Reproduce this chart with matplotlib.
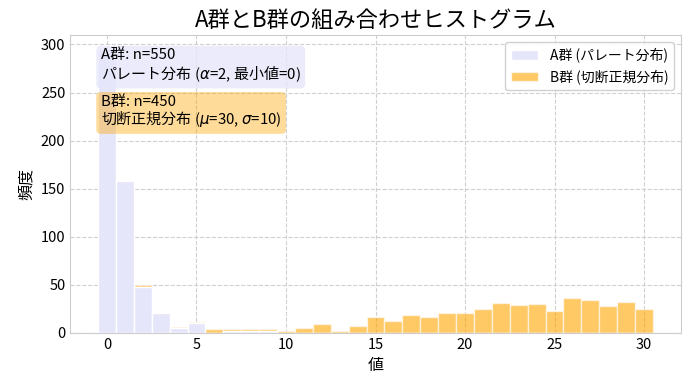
import matplotlib
matplotlib.use('agg')
import matplotlib.pyplot as plt
import numpy as np

# bin centres 0..30, width 1
bin_centers = list(range(31))
a_counts = [295, 158, 48, 20, 5, 10, 0, 2, 2, 2, 0, 0, 0, 0, 0, 0,
            0, 0, 0, 0, 0, 0, 0, 0, 0, 0, 0, 0, 0, 0, 0]
b_counts = [0, 0, 50, 0, 6, 11, 4, 4, 4, 4, 2, 5, 9, 2, 7, 16,
            12, 18, 16, 20, 20, 25, 31, 29, 30, 23, 36, 34, 28, 32, 25]

plt.rcParams['font.family'] = ['Noto Sans CJK JP', 'DejaVu Sans']
plt.rcParams['axes.unicode_minus'] = False

edges = np.arange(-0.5, 31.5, 1.0)

fig, ax = plt.subplots(figsize=(6.89, 3.9), dpi=100)
ax.hist(bin_centers, bins=edges, weights=a_counts, color='lavender', alpha=1.0,
        edgecolor='white', linewidth=1, label='A群 (パレート分布)', zorder=3)
ax.hist(bin_centers, bins=edges, weights=b_counts, color='orange', alpha=0.6,
        edgecolor='white', linewidth=1, label='B群 (切断正規分布)', zorder=2)

ax.set_title('A群とB群の組み合わせヒストグラム', fontsize=16)
ax.set_xlabel('値', fontsize=11.5)
ax.set_ylabel('頻度', fontsize=11.5)
ax.tick_params(length=0, labelsize=10.5)
ax.grid(True, linestyle='--', color='#d0d0d0', linewidth=0.8, zorder=0)
ax.set_axisbelow(True)
for s in ax.spines.values():
    s.set_color('#cccccc')

ax.text(0.05, 0.955, 'A群: n=550\nパレート分布 ($\\alpha$=2, 最小値=0)', transform=ax.transAxes,
        va='top', ha='left', fontsize=10.8, linespacing=1.05, zorder=5,
        bbox=dict(boxstyle='round,pad=0.3', facecolor='lavender', edgecolor='none', alpha=0.8))
ax.text(0.05, 0.80, 'B群: n=450\n切断正規分布 ($\\mu$=30, $\\sigma$=10)', transform=ax.transAxes,
        va='top', ha='left', fontsize=10.8, linespacing=1.05, zorder=5,
        bbox=dict(boxstyle='round,pad=0.3', facecolor='orange', edgecolor='none', alpha=0.4))

ax.legend(loc='upper right', fontsize=10, framealpha=0.9, edgecolor='#cccccc')

fig.subplots_adjust(left=0.102, right=0.988, top=0.91, bottom=0.147)
fig.savefig('out.png', dpi=100)
